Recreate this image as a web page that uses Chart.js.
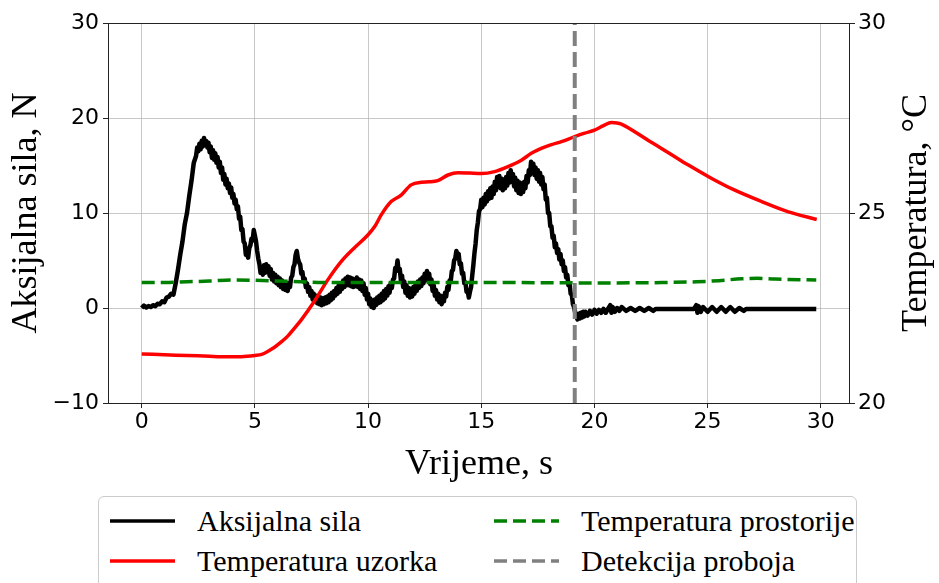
<!DOCTYPE html>
<html>
<head>
<meta charset="utf-8">
<script src="https://cdn.jsdelivr.net/npm/chart.js@4.4.1/dist/chart.umd.min.js"></script>
<style>
  html, body { margin: 0; padding: 0; background: #fff; }
  #wrap { position: relative; width: 939px; height: 583px; overflow: hidden; background: #fff; }
  #chartBox { position: absolute; left: 0; top: 0; width: 939px; height: 490px; }
  #legend {
    position: absolute; left: 98px; top: 496px; width: 757px; height: 120px;
    border: 1px solid #cccccc; border-radius: 6px; background: #fff;
    font-family: 'Liberation Serif', 'Times New Roman', serif; font-size: 30px; color: #000;
  }
  .item { position: absolute; height: 40px; line-height: 40px; white-space: nowrap; }
  .item svg { position: absolute; left: 0; top: 15px; }
  .item span { position: absolute; top: 0; }
</style>
</head>
<body>
<div id="wrap">
  <div id="chartBox"><canvas id="chart" width="939" height="490"></canvas></div>
  <div id="legend"></div>
</div>
<script>
const timeTicks = [0, 5, 10, 15, 20, 25, 30];
const breakdownTime = 19.13;

const seriesLabels = ['Aksijalna sila', 'Temperatura uzorka', 'Temperatura prostorije', 'Detekcija proboja'];

// [time s, force N]
const forcePoints = [
  [0.0,0.0],[0.1,0.25],[0.2,0.05],[0.3,0.2],[0.4,0.1],[0.5,0.3],[0.6,0.2],[0.7,0.45],[0.8,0.4],[0.9,0.7],
  [1.0,0.6],[1.1,1.1],[1.2,1.2],[1.3,1.5],[1.4,1.4],[1.5,2.6],[1.6,4.0],[1.7,5.6],[1.8,7.0],[1.9,8.8],
  [2.0,10.0],[2.1,11.8],[2.2,13.4],[2.3,15.3],[2.4,16.0],[2.45,16.9],[2.5,16.5],[2.55,17.3],[2.6,16.7],[2.65,17.6],
  [2.7,17.0],[2.75,17.9],[2.8,17.2],[2.85,17.6],[2.9,16.9],[2.95,17.4],[3.0,16.4],[3.05,17.0],[3.1,15.8],[3.15,16.6],
  [3.2,15.6],[3.25,16.3],[3.3,15.3],[3.35,15.9],[3.4,14.8],[3.45,15.4],[3.5,14.2],[3.55,14.8],[3.6,13.5],[3.65,14.1],
  [3.7,13.0],[3.75,13.6],[3.8,12.6],[3.85,13.1],[3.9,12.1],[3.95,12.7],[4.0,11.6],[4.05,12.0],[4.1,11.0],[4.15,11.4],
  [4.2,10.4],[4.25,10.7],[4.3,9.4],[4.35,9.6],[4.4,8.2],[4.45,8.3],[4.5,7.0],[4.55,6.8],[4.6,5.6],[4.65,5.8],
  [4.7,5.3],[4.75,6.3],[4.8,6.6],[4.85,7.3],[4.9,7.1],[4.95,8.2],[5.0,7.6],[5.05,7.0],[5.1,6.0],[5.15,5.2],
  [5.2,4.6],[5.25,3.7],[5.3,4.3],[5.35,3.5],[5.4,4.5],[5.45,3.7],[5.5,4.6],[5.55,3.8],[5.6,4.4],[5.65,3.4],
  [5.7,4.1],[5.75,3.0],[5.8,3.7],[5.85,2.8],[5.9,3.5],[5.95,2.6],[6.0,3.3],[6.05,2.4],[6.1,3.1],[6.15,2.2],
  [6.2,2.9],[6.25,2.0],[6.3,2.7],[6.35,1.9],[6.4,2.6],[6.45,1.8],[6.5,2.6],[6.55,2.2],[6.6,3.2],[6.65,3.4],
  [6.7,4.3],[6.75,4.6],[6.8,5.6],[6.85,6.0],[6.9,5.2],[6.95,4.8],[7.0,4.6],[7.05,3.6],[7.1,3.8],[7.15,2.8],
  [7.2,3.1],[7.25,2.2],[7.3,2.6],[7.35,1.7],[7.4,2.2],[7.45,1.3],[7.5,1.8],[7.55,0.9],[7.6,1.5],[7.65,0.7],
  [7.7,1.3],[7.75,0.5],[7.8,1.2],[7.85,0.4],[7.9,1.1],[7.95,0.3],[8.0,1.0],[8.05,0.4],[8.1,1.1],[8.15,0.5],
  [8.2,1.2],[8.25,0.6],[8.3,1.4],[8.35,0.8],[8.4,1.6],[8.45,1.0],[8.5,1.8],[8.55,1.3],[8.6,2.1],[8.65,1.5],
  [8.7,2.4],[8.75,1.7],[8.8,2.6],[8.85,2.0],[8.9,2.9],[8.95,2.2],[9.0,3.1],[9.05,2.4],[9.1,3.3],[9.15,2.4],
  [9.2,3.2],[9.25,2.3],[9.3,3.1],[9.35,2.2],[9.4,3.0],[9.45,2.3],[9.5,3.2],[9.55,2.2],[9.6,3.0],[9.65,2.0],
  [9.7,2.9],[9.75,1.8],[9.8,2.6],[9.85,1.4],[9.9,2.1],[9.95,0.9],[10.0,1.5],[10.05,0.4],[10.1,1.0],[10.15,0.1],
  [10.2,0.8],[10.25,0.0],[10.3,0.9],[10.35,0.3],[10.4,1.1],[10.45,0.5],[10.5,1.3],[10.55,0.6],[10.6,1.5],[10.65,0.8],
  [10.7,1.8],[10.75,1.0],[10.8,2.0],[10.85,1.3],[10.9,2.3],[10.95,1.6],[11.0,2.6],[11.05,2.1],[11.1,3.0],[11.15,3.1],
  [11.2,4.2],[11.25,4.0],[11.3,5.0],[11.35,3.9],[11.4,4.1],[11.45,2.9],[11.5,3.4],[11.55,2.2],[11.6,2.8],[11.65,1.6],
  [11.7,2.4],[11.75,1.3],[11.8,2.1],[11.85,1.1],[11.9,2.0],[11.95,1.2],[12.0,2.2],[12.05,1.5],[12.1,2.5],[12.15,1.8],
  [12.2,2.8],[12.25,2.1],[12.3,3.0],[12.35,2.3],[12.4,3.2],[12.45,2.6],[12.5,3.6],[12.55,2.9],[12.6,3.9],[12.65,3.0],
  [12.7,3.6],[12.75,2.5],[12.8,3.0],[12.85,1.8],[12.9,2.4],[12.95,1.3],[13.0,1.9],[13.05,0.9],[13.1,1.5],[13.15,0.6],
  [13.2,1.3],[13.25,0.4],[13.3,1.2],[13.35,0.7],[13.4,1.6],[13.45,1.2],[13.5,2.2],[13.55,1.9],[13.6,2.9],[13.65,2.8],
  [13.7,3.9],[13.75,4.0],[13.8,5.0],[13.85,5.2],[13.9,6.0],[13.95,5.6],[14.0,5.7],[14.05,4.6],[14.1,4.7],[14.15,3.6],
  [14.2,3.7],[14.25,2.6],[14.3,2.7],[14.35,1.7],[14.4,1.8],[14.45,1.1],[14.5,1.7],[14.55,2.2],[14.6,3.4],[14.65,4.5],
  [14.7,5.8],[14.75,6.8],[14.8,8.2],[14.85,9.0],[14.9,10.2],[14.95,10.4],[15.0,11.4],[15.05,10.6],[15.1,11.6],[15.15,10.9],
  [15.2,12.0],[15.25,11.2],[15.3,12.3],[15.35,11.5],[15.4,12.6],[15.45,11.6],[15.5,12.8],[15.55,12.0],[15.6,13.3],[15.65,12.4],
  [15.7,13.8],[15.75,12.8],[15.8,13.9],[15.85,12.6],[15.9,13.6],[15.95,12.4],[16.0,13.5],[16.05,12.6],[16.1,13.8],[16.15,12.9],
  [16.2,14.2],[16.25,13.2],[16.3,14.5],[16.35,13.3],[16.4,14.1],[16.45,12.8],[16.5,13.7],[16.55,12.4],[16.6,13.4],[16.65,12.1],
  [16.7,13.2],[16.75,12.0],[16.8,13.1],[16.85,12.2],[16.9,13.3],[16.95,12.6],[17.0,13.9],[17.05,13.2],[17.1,14.5],[17.15,14.0],
  [17.2,15.4],[17.25,15.0],[17.3,15.2],[17.35,14.0],[17.4,14.8],[17.45,13.6],[17.5,14.5],[17.55,13.3],[17.6,14.2],[17.65,13.0],
  [17.7,13.8],[17.75,12.5],[17.8,13.0],[17.85,11.4],[17.9,11.6],[17.95,10.0],[18.0,10.0],[18.05,8.6],[18.1,8.6],[18.15,7.4],
  [18.2,7.6],[18.25,6.4],[18.3,6.8],[18.35,5.8],[18.4,6.2],[18.45,5.1],[18.5,5.7],[18.55,4.6],[18.6,5.0],[18.65,3.9],
  [18.7,4.3],[18.75,3.2],[18.8,3.5],[18.85,2.4],[18.9,2.6],[18.95,1.5],[19.0,1.4],[19.05,0.4],[19.1,0.1],[19.15,-0.5],
  [19.2,-0.9],[19.25,-1.2],[19.3,-0.6],[19.35,-1.1],[19.4,-0.5],[19.45,-1.0],[19.5,-0.4],[19.55,-0.9],[19.6,-0.4],[19.7,-0.8],
  [19.8,-0.3],[19.9,-0.7],[20.0,-0.2],[20.1,-0.6],[20.2,-0.2],[20.3,-0.5],[20.4,-0.1],[20.5,-0.5],[20.6,-0.1],[20.7,0.3],
  [20.75,-0.5],[20.8,0.1],[20.9,-0.4],[21.0,0.0],[21.1,-0.3],[21.2,0.1],[21.4,-0.3],[21.6,0.0],[21.8,-0.3],[22.0,0.0],
  [22.2,-0.3],[22.4,0.0],[22.6,-0.3],[22.7,-0.1],[23.5,-0.1],[24.4,-0.1],[24.5,0.3],[24.55,-0.5],[24.6,0.2],[24.7,-0.4],
  [24.8,0.1],[25.0,-0.4],[25.2,0.1],[25.4,-0.4],[25.6,0.1],[25.8,-0.4],[26.0,0.1],[26.2,-0.4],[26.4,0.0],[26.6,-0.3],
  [26.7,-0.1],[28.0,-0.1],[29.8,-0.1]
];

// [time s, sample temperature °C]
const sampleTempPoints = [
  [0,21.29],[1,21.27],[2,21.25],[3,21.23],[3.5,21.22],[4.4,21.22],[5.0,21.25],[5.3,21.28],[5.6,21.37],
  [5.85,21.46],[6.15,21.6],[6.45,21.76],[6.75,21.97],[7.04,22.18],[7.62,22.67],[8.22,23.24],[8.81,23.72],
  [9.39,24.08],[9.99,24.42],[10.3,24.65],[10.58,24.95],[11.02,25.3],[11.46,25.47],[11.9,25.74],[12.35,25.81],
  [12.7,25.82],[13.08,25.85],[13.53,26.0],[13.97,26.06],[14.5,26.05],[15.0,26.04],[15.59,26.09],[16.18,26.22],
  [16.77,26.39],[17.21,26.57],[17.65,26.7],[18.1,26.8],[18.54,26.88],[19.13,27.01],[19.57,27.1],[20.0,27.18],
  [20.4,27.3],[20.75,27.38],[21.0,27.37],[21.19,27.34],[21.78,27.14],[22.4,26.9],[22.96,26.7],[23.5,26.5],
  [24.15,26.26],[25.18,25.91],[26.2,25.6],[27.39,25.3],[28.57,25.03],[29.82,24.83]
];

// [time s, room temperature °C]
const roomTempPoints = [
  [0,23.17],[1,23.17],[2,23.19],[3,23.21],[4,23.24],[5,23.23],[6,23.21],[7,23.19],[8,23.17],[12,23.17],
  [16,23.17],[20,23.16],[23,23.17],[24.5,23.19],[25.5,23.22],[26.5,23.27],[27.2,23.28],[28,23.26],[29.8,23.24]
];

const colors = {
  force: '#000000',
  sample: '#ff0000',
  room: '#008000',
  breakdown: '#808080',
};

const toXY = (pairs) => pairs.map(([x, y]) => ({ x, y }));
const serif = "'Liberation Serif', 'Times New Roman', serif";

const framePlugin = {
  id: 'frame',
  afterDatasetsDraw(chart) {
    const { ctx, chartArea: a } = chart;
    ctx.save();
    ctx.strokeStyle = '#222';
    ctx.lineWidth = 1;
    ctx.strokeRect(a.left + 0.5, a.top + 0.5, a.right - a.left - 1, a.bottom - a.top);
    ctx.restore();
  },
  afterDraw(chart) {
    const { ctx, chartArea: a } = chart;
    ctx.save();
    ctx.translate(917, (a.top + a.bottom) / 2);
    ctx.rotate(-Math.PI / 2);
    ctx.font = `36px ${serif}`;
    ctx.fillStyle = '#000';
    ctx.textAlign = 'center';
    ctx.textBaseline = 'middle';
    ctx.fillText('Temperatura, °C', 0, 0);
    ctx.restore();
  },
};

const minus = (v) => String(v).replace('-', '\u2212');

const tickFont = { family: 'DejaVu Sans', size: 22 };
const gridColor = 'rgba(176,176,176,0.7)';

new Chart(document.getElementById('chart').getContext('2d'), {
  type: 'line',
  data: {
    datasets: [
      {
        label: seriesLabels[3],
        data: [{ x: breakdownTime, y: -10 }, { x: breakdownTime, y: 30 }],
        borderColor: colors.breakdown,
        borderWidth: 4,
        borderDash: [15, 6],
        yAxisID: 'y',
        order: 0,
      },
      {
        label: seriesLabels[2],
        data: toXY(roomTempPoints),
        borderColor: colors.room,
        borderWidth: 3.5,
        borderDash: [13, 6],
        cubicInterpolationMode: 'monotone',
        yAxisID: 'y2',
        order: 1,
      },
      {
        label: seriesLabels[1],
        data: toXY(sampleTempPoints),
        borderColor: colors.sample,
        borderWidth: 3.5,
        cubicInterpolationMode: 'monotone',
        yAxisID: 'y2',
        order: 2,
      },
      {
        label: seriesLabels[0],
        data: toXY(forcePoints),
        borderColor: colors.force,
        borderWidth: 4.5,
        borderJoinStyle: 'round',
        yAxisID: 'y',
        order: 3,
      },
    ],
  },
  options: {
    responsive: false,
    animation: false,
    parsing: false,
    normalized: true,
    layout: { padding: { top: 23, left: 0, right: 0, bottom: 0 } },
    elements: { point: { radius: 0 }, line: { tension: 0 } },
    plugins: { legend: { display: false }, tooltip: { enabled: false } },
    scales: {
      x: {
        type: 'linear',
        min: -1.49,
        max: 31.29,
        afterBuildTicks: (s) => { s.ticks = timeTicks.map((v) => ({ value: v })); },
        afterFit: (s) => { s.height = 87; },
        ticks: { font: tickFont, color: '#000', padding: 1, maxRotation: 0, autoSkip: false, callback: minus },
        grid: { color: gridColor, tickColor: '#222', tickLength: 5, drawTicks: true },
        border: { display: false },
        title: {
          display: true, text: 'Vrijeme, s', color: '#000',
          font: { family: serif, size: 36 }, padding: { top: 0, bottom: 4 },
        },
      },
      y: {
        type: 'linear',
        position: 'left',
        min: -10,
        max: 30,
        afterFit: (s) => { s.width = 108; },
        ticks: { stepSize: 10, font: tickFont, color: '#000', padding: 4, callback: minus },
        grid: { color: gridColor, tickColor: '#222', tickLength: 5 },
        border: { display: false },
        title: {
          display: true, text: 'Aksijalna sila, N', color: '#000',
          font: { family: serif, size: 36 }, padding: { top: 5, bottom: 0 },
        },
      },
      y2: {
        type: 'linear',
        position: 'right',
        min: 20,
        max: 30,
        afterFit: (s) => { s.width = 89; },
        ticks: { stepSize: 5, font: tickFont, color: '#000', padding: 3 },
        grid: { drawOnChartArea: false, tickColor: '#222', tickLength: 5 },
        border: { display: false },
      },
    },
  },
  plugins: [framePlugin],
});

// legend below the chart
const legendItems = [
  { label: seriesLabels[0], color: colors.force, dash: '', left: 11, top: 4 },
  { label: seriesLabels[1], color: colors.sample, dash: '', left: 11, top: 44 },
  { label: seriesLabels[2], color: colors.room, dash: '13 6', left: 395, top: 4 },
  { label: seriesLabels[3], color: colors.breakdown, dash: '13 6', left: 395, top: 44 },
];
const legendEl = document.getElementById('legend');
legendItems.forEach((it) => {
  const div = document.createElement('div');
  div.className = 'item';
  div.style.left = it.left + 'px';
  div.style.top = it.top + 'px';
  div.innerHTML = `<svg width="65" height="10"><line x1="0" y1="5" x2="65" y2="5" stroke="${it.color}" stroke-width="3.5"${it.dash ? ` stroke-dasharray="${it.dash}"` : ''}/></svg><span style="left:87px">${it.label}</span>`;
  legendEl.appendChild(div);
});
</script>
</body>
</html>
